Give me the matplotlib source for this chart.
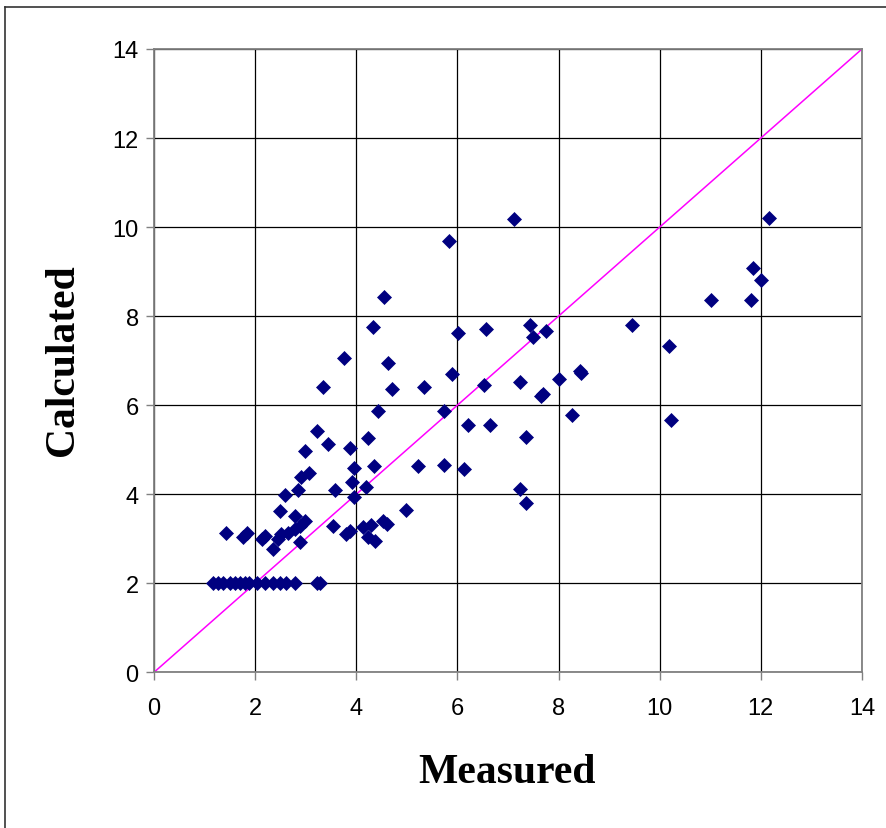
import matplotlib.pyplot as plt
from matplotlib.lines import Line2D

# measured vs calculated values
measured = [1.17, 1.27, 1.36, 1.50, 1.60, 1.70, 1.80, 1.88, 2.03, 2.19, 2.36, 2.49, 2.62, 2.79, 3.23, 3.29,
            1.42, 1.77, 1.83, 2.13, 2.19, 2.35, 2.46, 2.52, 2.49, 2.65, 2.79, 2.79, 2.89, 2.98, 2.89, 3.54,
            2.59, 2.84, 2.90, 3.07, 2.98, 3.23, 3.45, 3.35, 3.58, 3.87, 3.96, 3.92, 3.96, 3.80, 3.88, 4.14,
            4.30, 4.53, 4.60, 4.23, 4.37, 4.23, 4.35, 4.20, 4.43, 4.71, 4.99, 5.22, 5.33, 5.73, 5.73,
            4.54, 4.34, 3.75, 4.62,
            7.11, 5.84, 6.01, 6.57, 7.44, 7.49, 7.76, 5.89, 6.53, 7.24, 7.66, 7.70, 8.00, 8.42, 8.45,
            6.20, 6.65, 8.26, 7.36, 6.13, 7.24, 7.36,
            12.16, 11.84, 12.00, 11.01, 11.80, 9.46, 10.18, 10.22]
calculated = [2.0, 2.0, 2.0, 2.0, 2.0, 2.0, 2.0, 2.0, 2.0, 2.0, 2.0, 2.0, 2.0, 2.0, 2.0, 2.0,
              3.14, 3.05, 3.14, 2.99, 3.07, 2.77, 2.99, 3.11, 3.63, 3.14, 3.52, 3.22, 3.29, 3.40, 2.92, 3.28,
              3.99, 4.09, 4.39, 4.48, 4.97, 5.41, 5.12, 6.41, 4.09, 5.03, 4.58, 4.28, 3.94, 3.10, 3.18, 3.26,
              3.31, 3.40, 3.33, 3.03, 2.96, 5.26, 4.63, 4.17, 5.88, 6.37, 3.65, 4.63, 6.41, 5.88, 4.66,
              8.43, 7.76, 7.07, 6.95,
              10.18, 9.68, 7.62, 7.71, 7.81, 7.53, 7.66, 6.69, 6.45, 6.51, 6.20, 6.25, 6.59, 6.76, 6.72,
              5.56, 5.56, 5.78, 5.29, 4.57, 4.12, 3.81,
              10.20, 9.07, 8.81, 8.36, 8.36, 7.81, 7.32, 5.67]
ticks = [0, 2, 4, 6, 8, 10, 12, 14]

fig = plt.figure(figsize=(8.87, 8.29), dpi=100)
ax = fig.add_axes([0.1736, 0.1878, 0.7982, 0.7519])

ax.plot([0, 14], [0, 14], color='#ff00ff', lw=1.1, zorder=2)
ax.plot(measured, calculated, linestyle='none', marker='D', ms=7.2,
        color='#000080', mec='#000080', mew=0.5, zorder=3, clip_on=False)

ax.set_xlim(0, 14)
ax.set_ylim(0, 14)
ax.set_xticks(ticks)
ax.set_yticks(ticks)
ax.grid(True, color='black', lw=0.9)
ax.set_axisbelow(True)
for s in ax.spines.values():
    s.set_color('#808080')
    s.set_linewidth(1.3)
ax.tick_params(direction='out', length=6, width=1, color='#808080',
               labelsize=17, pad=4)
for lab in ax.get_xticklabels() + ax.get_yticklabels():
    lab.set_fontfamily('Liberation Sans')
ax.tick_params(axis='x', pad=12)
ax.tick_params(axis='y', pad=5)

fig.text(507 / 887, 1 - 773 / 829, 'Measured', family='Liberation Serif',
         weight='bold', fontsize=30, ha='center', va='center')
fig.text(63 / 887, 1 - 360 / 829, 'Calculated', family='Liberation Serif',
         weight='bold', fontsize=30, ha='center', va='center', rotation=90)

# outer chart border (left and top visible)
fig.add_artist(Line2D([5.5 / 887, 5.5 / 887], [0, 1 - 7.5 / 829], color='#333333', lw=1.2))
fig.add_artist(Line2D([5.5 / 887, 1], [1 - 7.5 / 829, 1 - 7.5 / 829], color='#333333', lw=1.2))

fig.savefig('out.png', dpi=100)
